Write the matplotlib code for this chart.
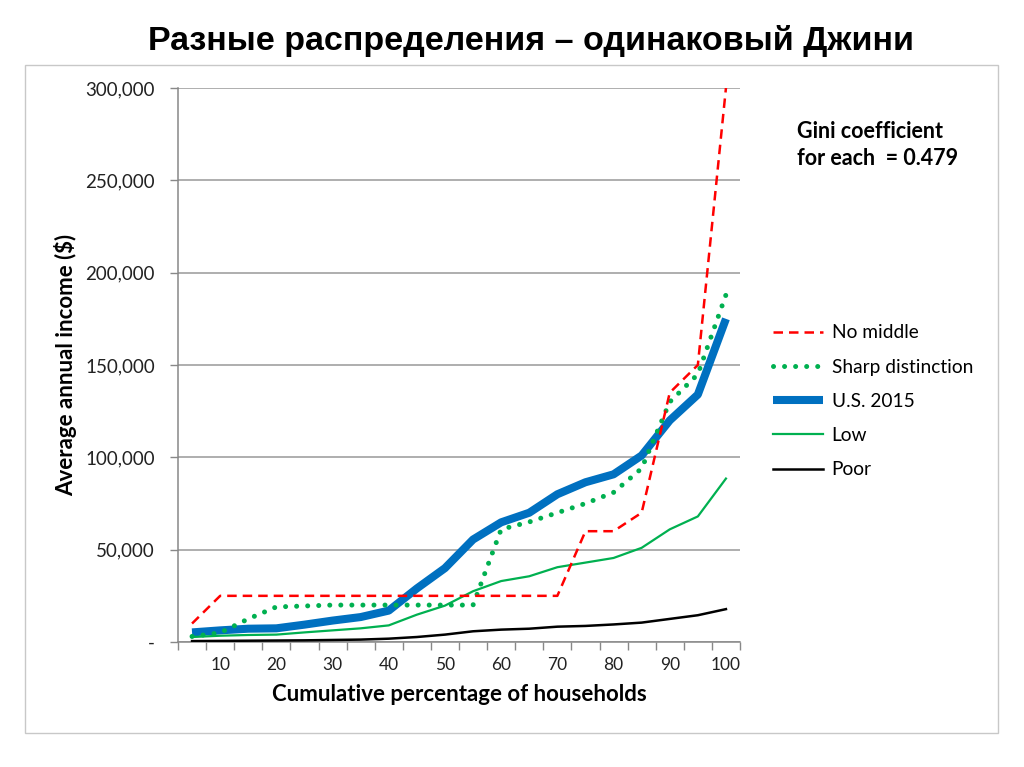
import matplotlib
matplotlib.use("Agg")
import matplotlib.pyplot as plt
from matplotlib.patches import Rectangle
from matplotlib.ticker import FuncFormatter, FixedLocator

# cumulative percentage of households (category axis, 5% steps)
pct = [5, 10, 15, 20, 25, 30, 35, 40, 45, 50,
       55, 60, 65, 70, 75, 80, 85, 90, 95, 100]

no_middle = [10000, 25000, 25000, 25000, 25000, 25000, 25000, 25000, 25000, 25000,
             25000, 25000, 25000, 25000, 60000, 60000, 70000, 135000, 150000, 300000]
sharp = [3000, 5000, 12500, 19000, 19500, 20000, 20000, 20000, 20000, 20000,
         20000, 61000, 65000, 70000, 75000, 81000, 94000, 130000, 145000, 188000]
us2015 = [5200, 6300, 7200, 7400, 9400, 11600, 13500, 17000, 29000, 40000,
          55500, 64800, 70000, 80000, 86500, 90800, 101000, 120000, 134000, 175000]
low = [2700, 3400, 3800, 4000, 5200, 6300, 7400, 9000, 14800, 19700,
       27500, 33000, 35600, 40500, 43000, 45500, 51000, 61000, 68000, 88500]
poor = [500, 600, 700, 800, 900, 1100, 1300, 1800, 2700, 4000,
        5800, 6700, 7200, 8300, 8700, 9500, 10500, 12500, 14500, 17800]

xtick_labels = [10, 20, 30, 40, 50, 60, 70, 80, 90, 100]
yticks = [0, 50000, 100000, 150000, 200000, 250000, 300000]

RED = "#FF0000"
GREEN = "#00B050"
BLUE = "#0070C0"

plt.rcParams["font.family"] = ["Lato", "DejaVu Sans"]

fig = plt.figure(figsize=(10.24, 7.67), dpi=100)

# light frame around the chart
fig.patches.append(Rectangle((25 / 1024, 1 - 733 / 767), 973 / 1024, 668 / 767,
                             transform=fig.transFigure, fill=False,
                             edgecolor="#c8c8c8", linewidth=1.0))

fig.text(0.519, 1 - 41 / 767, "Разные распределения – одинаковый Джини",
         ha="center", va="center", fontsize=24.5, fontweight="bold",
         family=["Liberation Sans", "DejaVu Sans"])

ax = fig.add_axes([178 / 1024, 1 - 642 / 767, 562 / 1024, 554 / 767])

ax.plot(pct, us2015, color=BLUE, lw=5.8, solid_capstyle="butt", zorder=2,
        label="U.S. 2015")
ax.plot(pct, low, color=GREEN, lw=1.6, zorder=3, label="Low")
ax.plot(pct, poor, color="black", lw=1.8, zorder=3, label="Poor")
ax.plot(pct, sharp, color=GREEN, lw=3.6, linestyle=(0, (0.01, 2.2)),
        dash_capstyle="round", zorder=4, label="Sharp distinction")
ax.plot(pct, no_middle, color=RED, lw=1.8, linestyle=(0, (3.8, 2.4)), zorder=5,
        label="No middle")

ax.set_xlim(2.5, 102.5)
ax.set_ylim(0, 300000)
ax.set_xticks(xtick_labels)
ax.set_xticklabels([str(v) for v in xtick_labels])
ax.xaxis.set_minor_locator(FixedLocator([2.5 + 5 * i for i in range(21)]))
ax.tick_params(axis="x", which="major", length=0, pad=11, labelsize=12.5,
               labelcolor="#222222")
ax.tick_params(axis="x", which="minor", length=6, direction="out",
               color="#888888", width=1)
ax.set_yticks(yticks)
ax.yaxis.set_major_formatter(FuncFormatter(lambda v, p: "-" if v == 0 else f"{v:,.0f}"))
ax.tick_params(axis="y", length=5.5, direction="out", color="#888888", width=1,
               labelsize=13.5, labelcolor="#222222", pad=11)
ax.grid(axis="y", color="#999999", linewidth=1.1, zorder=0)
ax.set_axisbelow(True)
for s in ["top", "right"]:
    ax.spines[s].set_visible(False)
for s in ["left", "bottom"]:
    ax.spines[s].set_color("#888888")
    ax.spines[s].set_linewidth(1.1)

ax.set_ylabel("Average annual income ($)", fontsize=16, fontweight="bold",
              labelpad=6)
ax.set_xlabel("Cumulative percentage of households", fontsize=16,
              fontweight="bold", labelpad=8)

handles, labels = ax.get_legend_handles_labels()
order = ["No middle", "Sharp distinction", "U.S. 2015", "Low", "Poor"]
hmap = dict(zip(labels, handles))
fig.legend([hmap[k] for k in order], order, loc="upper left",
           bbox_to_anchor=(756 / 1024, 1 - 307 / 767), frameon=False,
           fontsize=13.8, handlelength=2.6, labelspacing=0.9,
           handletextpad=0.45)

fig.text(797 / 1024, 1 - 145 / 767, "Gini coefficient\nfor each  = 0.479",
         ha="left", va="center", fontsize=15.5, fontweight="bold",
         linespacing=1.4)

fig.savefig("out.png", dpi=100)
